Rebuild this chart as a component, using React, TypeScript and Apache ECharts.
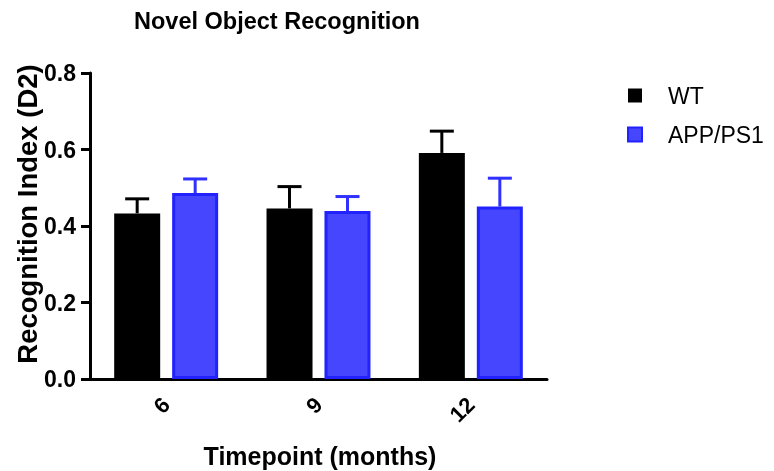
import React, { useEffect, useRef } from "react";
import * as echarts from "echarts";

const categories = ["6", "9", "12"];
const wtMean = [0.433, 0.446, 0.591];
const wtUpper = [0.471, 0.503, 0.648];
const appMean = [0.486, 0.439, 0.451];
const appUpper = [0.523, 0.477, 0.525];
const seriesNames = ["WT", "APP/PS1"];
const titleText = "Novel Object Recognition";
const yAxisTitle = "Recognition Index (D2)";
const xAxisTitle = "Timepoint (months)";

const FONT = "'Liberation Sans', Arial, Helvetica, sans-serif";
const BAR_W = 46;
const BAR_OFFSET = 29;
const BLUE_FILL = "#4646ff";
const BLUE_BORDER = "#2222ff";

function errorSeries(name: string, means: number[], uppers: number[], offset: number, color: string) {
  return {
    name,
    type: "custom",
    z: 1,
    renderItem: (params: any, api: any) => {
      const idx = api.value(0);
      const m = api.value(1);
      const u = api.value(2);
      const base = api.coord([idx, m]);
      const top = api.coord([idx, u]);
      const x = base[0] + offset;
      return {
        type: "group",
        children: [
          { type: "line", shape: { x1: x, y1: base[1], x2: x, y2: top[1] }, style: { stroke: color, lineWidth: 3 } },
          { type: "line", shape: { x1: x - 12, y1: top[1], x2: x + 12, y2: top[1] }, style: { stroke: color, lineWidth: 3 } },
        ],
      };
    },
    encode: { x: 0, y: [1, 2] },
    data: means.map((m, i) => [i, m, uppers[i]]),
  };
}

export default function App() {
  const ref = useRef<HTMLDivElement>(null);
  useEffect(() => {
    if (!ref.current) return;
    const chart = echarts.init(ref.current, null, { renderer: "svg" });
    chart.setOption({
      animation: false,
      textStyle: { fontFamily: FONT },
      grid: { left: 90, right: 227, top: 73, bottom: 92, containLabel: false },
      legend: {
        data: seriesNames,
        orient: "vertical",
        left: 622,
        top: 79,
        itemWidth: 14,
        itemHeight: 14,
        itemGap: 16,
        icon: "rect",
        textStyle: { fontSize: 23, color: "#000", fontFamily: FONT, padding: [0, 0, 0, 21] },
      },
      graphic: [
        {
          type: "text",
          x: 277,
          y: 9,
          style: { text: titleText, fontSize: 23.5, fontWeight: "bold", fontFamily: FONT, fill: "#000", align: "center", verticalAlign: "top" },
        },
        {
          type: "text",
          x: 27,
          y: 214,
          rotation: Math.PI / 2,
          style: { text: yAxisTitle, fontSize: 27.5, fontWeight: "bold", fontFamily: FONT, fill: "#000", align: "center", verticalAlign: "middle" },
        },
        {
          type: "text",
          x: 320,
          y: 456,
          style: { text: xAxisTitle, fontSize: 25, fontWeight: "bold", fontFamily: FONT, fill: "#000", align: "center", verticalAlign: "middle" },
        },
      ],
      xAxis: {
        type: "category",
        data: categories,
        axisLine: { lineStyle: { color: "#000", width: 3 } },
        axisTick: { alignWithLabel: true, length: 9, lineStyle: { color: "#000", width: 3 } },
        axisLabel: { rotate: 45, margin: 22, fontSize: 22, fontWeight: "bold", color: "#000", fontFamily: FONT },
      },
      yAxis: {
        type: "value",
        min: 0,
        max: 0.8,
        interval: 0.2,
        splitLine: { show: false },
        axisLine: { show: true, lineStyle: { color: "#000", width: 3 } },
        axisTick: { show: true, length: 9, lineStyle: { color: "#000", width: 3 } },
        axisLabel: { margin: 14, fontSize: 23, fontWeight: "bold", color: "#000", fontFamily: FONT, formatter: (v: number) => v.toFixed(1) },
      },
      series: [
        errorSeries("WT err", wtMean, wtUpper, -BAR_OFFSET, "#000"),
        errorSeries("APP err", appMean, appUpper, BAR_OFFSET, "#3030ff"),
        {
          name: seriesNames[0],
          type: "bar",
          z: 2,
          barWidth: BAR_W,
          barGap: "26%",
          data: wtMean,
          itemStyle: { color: "#000" },
        },
        {
          name: seriesNames[1],
          type: "bar",
          z: 2,
          barWidth: BAR_W,
          data: appMean,
          itemStyle: { color: BLUE_FILL, borderColor: BLUE_BORDER, borderWidth: 3 },
        },
      ],
    });
    return () => chart.dispose();
  }, []);
  return <div ref={ref} style={{ position: "fixed", left: 0, top: 0, width: 774, height: 471 }} />;
}
